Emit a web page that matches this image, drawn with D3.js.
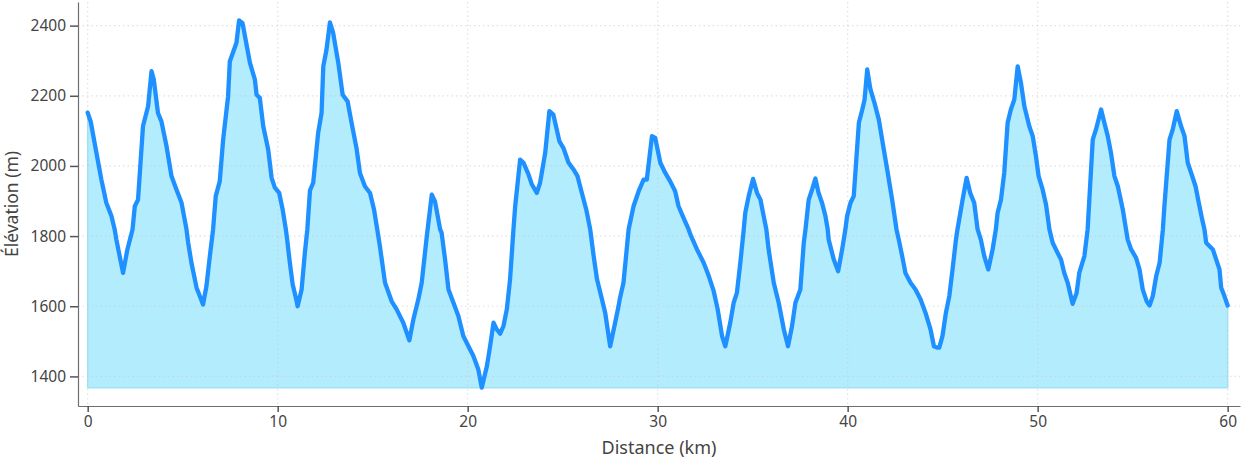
<!DOCTYPE html>
<html>
<head>
<meta charset="utf-8">
<script src="https://cdn.jsdelivr.net/npm/d3@7"></script>
<style>
  html, body { margin: 0; padding: 0; background: #fff; }
  svg { display: block; font-family: "Noto Sans", "DejaVu Sans", sans-serif; }
</style>
</head>
<body>
<svg id="chart" width="1242" height="460"></svg>
<script>
const distanceKm = [
  0.00,0.16,0.46,0.72,0.98,1.25,1.42,1.51,1.72,1.86,2.09,2.36,2.48,2.65,2.91,3.18,3.36,3.48,3.70,3.88,
  4.15,4.41,4.67,4.94,5.20,5.29,5.46,5.73,5.90,6.07,6.25,6.43,6.60,6.74,6.95,7.13,7.39,7.48,7.83,7.97,
  8.15,8.54,8.80,8.89,9.06,9.24,9.50,9.68,9.85,10.08,10.26,10.43,10.50,10.64,10.79,11.00,11.05,11.26,11.43,11.56,
  11.70,11.87,12.13,12.31,12.40,12.57,12.75,12.92,13.19,13.42,13.68,13.89,14.16,14.33,14.59,14.86,15.07,15.24,15.38,15.65,
  16.00,16.26,16.61,16.93,17.14,17.40,17.58,17.85,18.11,18.28,18.55,18.63,18.81,18.99,19.25,19.51,19.77,20.04,20.30,20.56,
  20.74,21.01,21.18,21.36,21.53,21.71,21.88,22.06,22.23,22.41,22.50,22.76,22.94,23.20,23.38,23.64,23.81,24.08,24.30,24.51,
  24.83,25.04,25.31,25.57,25.78,26.01,26.24,26.45,26.63,26.81,27.07,27.24,27.42,27.50,27.76,27.94,28.00,28.20,28.37,28.47,
  28.73,29.00,29.26,29.43,29.70,29.87,30.14,30.40,30.66,30.92,31.10,31.36,31.63,31.72,32.07,32.42,32.69,32.95,33.16,33.39,
  33.56,33.82,34.00,34.17,34.35,34.53,34.61,34.79,35.02,35.23,35.41,35.58,35.72,35.84,36.11,36.37,36.64,36.86,37.07,37.25,
  37.51,37.69,37.78,37.95,38.13,38.30,38.47,38.65,38.83,38.95,39.00,39.27,39.50,39.71,39.88,39.97,40.15,40.32,40.59,40.77,
  40.89,41.03,41.20,41.41,41.64,41.90,42.08,42.34,42.57,42.69,42.87,43.04,43.31,43.57,43.84,44.10,44.36,44.54,44.71,44.82,
  44.99,45.17,45.35,45.52,45.70,45.78,46.05,46.26,46.45,46.66,46.84,47.01,47.19,47.40,47.63,47.80,47.89,48.07,48.24,48.42,
  48.59,48.77,48.95,49.12,49.30,49.56,49.74,49.91,50.05,50.26,50.44,50.62,50.79,51.05,51.23,51.40,51.58,51.84,52.05,52.19,
  52.46,52.63,52.72,52.90,53.07,53.34,53.51,53.69,53.86,54.04,54.22,54.48,54.65,54.74,54.92,55.18,55.36,55.53,55.74,55.89,
  56.06,56.24,56.42,56.59,56.67,56.94,57.11,57.32,57.55,57.73,57.90,58.08,58.31,58.48,58.66,58.78,58.87,59.22,59.40,59.57,
  59.66,59.83,60.00
];
const elevationM = [
  2152,2126,2037,1961,1895,1857,1819,1790,1733,1695,1762,1819,1885,1904,2113,2170,2270,2246,2151,2127,
  2056,1971,1933,1895,1819,1781,1724,1653,1629,1605,1657,1743,1819,1914,1956,2075,2199,2298,2351,2415,
  2407,2294,2246,2203,2194,2113,2047,1966,1938,1923,1876,1819,1790,1724,1662,1614,1600,1648,1752,1819,
  1930,1952,2094,2151,2284,2332,2409,2379,2294,2203,2184,2123,2047,1980,1942,1923,1876,1819,1771,1667,
  1614,1591,1553,1503,1562,1619,1667,1800,1918,1899,1819,1809,1733,1648,1610,1572,1515,1486,1458,1420,
  1368,1429,1486,1553,1534,1522,1543,1591,1676,1819,1885,2018,2009,1976,1947,1923,1952,2037,2156,2146,
  2070,2051,2009,1990,1971,1923,1876,1819,1743,1676,1619,1581,1515,1486,1553,1600,1619,1667,1762,1819,
  1885,1928,1961,1961,2085,2080,2009,1980,1956,1928,1885,1852,1819,1805,1762,1724,1686,1643,1591,1515,
  1486,1553,1610,1638,1724,1819,1866,1914,1963,1923,1904,1857,1819,1762,1667,1610,1534,1486,1543,1610,
  1648,1781,1819,1904,1933,1964,1923,1895,1857,1819,1790,1733,1700,1762,1819,1857,1895,1914,2123,2161,
  2189,2275,2218,2180,2132,2047,1990,1904,1819,1790,1743,1695,1667,1648,1619,1581,1534,1486,1482,1482,
  1515,1581,1629,1705,1790,1819,1904,1966,1923,1895,1819,1790,1743,1705,1762,1819,1866,1904,1980,2123,
  2161,2189,2284,2237,2170,2113,2085,2028,1971,1933,1890,1819,1781,1752,1733,1695,1667,1607,1638,1695,
  1743,1819,1904,2075,2104,2161,2123,2085,2037,1971,1942,1876,1819,1790,1762,1738,1705,1648,1614,1602,
  1629,1686,1724,1819,1885,2075,2104,2156,2113,2085,2009,1980,1942,1895,1847,1819,1781,1762,1733,1705,
  1653,1629,1602
];
const xTicks = [0, 10, 20, 30, 40, 50, 60];
const yTicks = [1400, 1600, 1800, 2000, 2200, 2400];
const xLabel = "Distance (km)";
const yLabel = "Élévation (m)";

const W = 1242, H = 460;
const margin = { left: 78, right: 2, top: 2, bottom: 54 };
const svg = d3.select("#chart");

const data = distanceKm.map((d, i) => ({ x: d, y: elevationM[i] }));
const yMin = d3.min(elevationM), yMax = d3.max(elevationM);
const pad = (yMax - yMin) * 0.05;

const x = d3.scaleLinear().domain([-0.51, 60.65]).range([margin.left, W - margin.right]);
const y = d3.scaleLinear().domain([yMin - pad, yMax + pad]).range([H - margin.bottom, margin.top]);

// fill
svg.append("path")
  .datum(data)
  .attr("d", d3.area().x(d => x(d.x)).y0(y(yMin)).y1(d => y(d.y)))
  .attr("fill", "#b2ecfd")
  .attr("stroke", "#9fe3f7")
  .attr("stroke-width", 1.5)
  .attr("stroke-linejoin", "miter");

// grid
const grid = svg.append("g");
grid.selectAll("line.gx").data(xTicks).join("line")
  .attr("x1", d => x(d)).attr("x2", d => x(d))
  .attr("y1", margin.top).attr("y2", H - margin.bottom)
  .attr("stroke", "#c8c8c8").attr("stroke-opacity", 0.55)
  .attr("stroke-width", 1.2).attr("stroke-dasharray", "1.5,3");
grid.selectAll("line.gy").data(yTicks).join("line")
  .attr("y1", d => y(d)).attr("y2", d => y(d))
  .attr("x1", margin.left).attr("x2", W - margin.right)
  .attr("stroke", "#c8c8c8").attr("stroke-opacity", 0.55)
  .attr("stroke-width", 1.2).attr("stroke-dasharray", "1.5,3");

// line
svg.append("path")
  .datum(data)
  .attr("d", d3.line().x(d => x(d.x)).y(d => y(d.y)))
  .attr("fill", "none")
  .attr("stroke", "#1e90ff")
  .attr("stroke-width", 4.3)
  .attr("stroke-linejoin", "round")
  .attr("stroke-linecap", "round");

// axes
const xAxis = svg.append("g")
  .attr("transform", `translate(0,${H - margin.bottom})`)
  .call(d3.axisBottom(x).tickValues(xTicks).tickFormat(d3.format("d")).tickSize(6).tickPadding(4).tickSizeOuter(0));
const yAxis = svg.append("g")
  .attr("transform", `translate(${margin.left},0)`)
  .call(d3.axisLeft(y).tickValues(yTicks).tickFormat(d3.format("d")).tickSize(8).tickPadding(4).tickSizeOuter(0));
[xAxis, yAxis].forEach(a => {
  a.select(".domain").attr("stroke", "#6e6e6e").attr("stroke-width", 1.2);
  a.selectAll(".tick line").attr("stroke", "#555").attr("stroke-width", 1.5);
  a.selectAll(".tick text").attr("fill", "#444").style("font-size", "15.5px")
    .style("font-family", '"Noto Sans", "DejaVu Sans", sans-serif');
});

svg.append("text")
  .attr("x", (margin.left + W - margin.right) / 2)
  .attr("y", 454)
  .attr("text-anchor", "middle")
  .attr("fill", "#444")
  .style("font-size", "18px")
  .text(xLabel);

svg.append("text")
  .attr("transform", `translate(17.5,${(margin.top + H - margin.bottom) / 2}) rotate(-90)`)
  .attr("text-anchor", "middle")
  .attr("fill", "#444")
  .style("font-size", "17.5px")
  .text(yLabel);
</script>
</body>
</html>
